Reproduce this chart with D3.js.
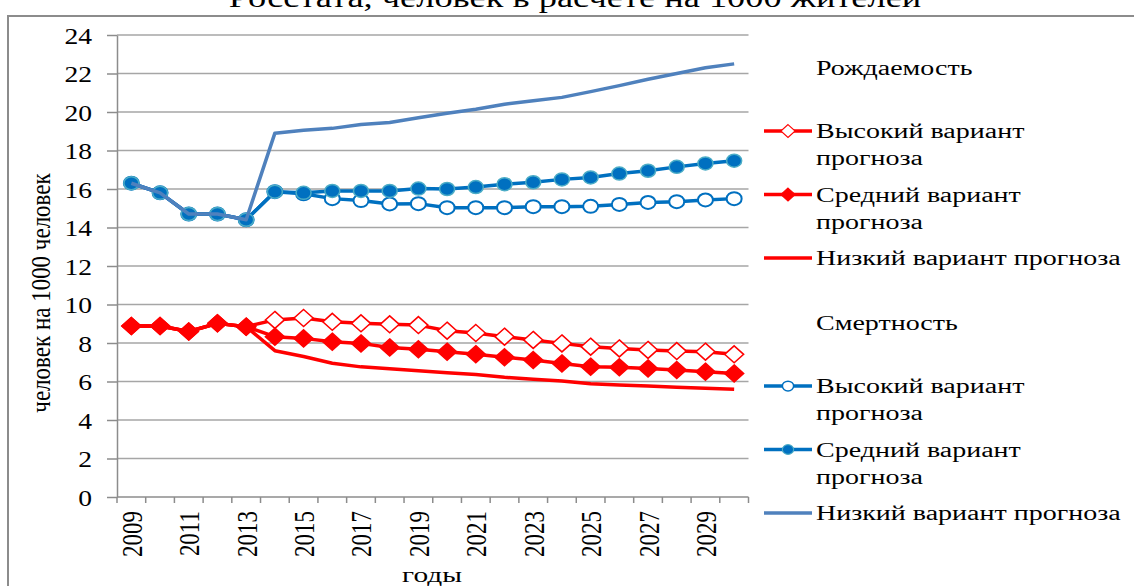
<!DOCTYPE html>
<html>
<head>
<meta charset="utf-8">
<script src="https://cdn.jsdelivr.net/npm/d3@7"></script>
<style>
  body { margin: 0; background: #fff; }
  text { font-family: "Liberation Serif", "Times New Roman", serif; fill: #000; }
</style>
</head>
<body>
<svg id="chart" width="1134" height="586"></svg>
<script>
const years = ['2009', '2010', '2011', '2012', '2013', '2014', '2015', '2016', '2017', '2018', '2019',
               '2020', '2021', '2022', '2023', '2024', '2025', '2026', '2027', '2028', '2029', '2030']
const yearLabels = ['2009', '2011', '2013', '2015', '2017', '2019', '2021', '2023', '2025', '2027', '2029']
const yTicks = [0, 2, 4, 6, 8, 10, 12, 14, 16, 18, 20, 22, 24]

// Рождаемость
const birthHigh = [8.88, 8.88, 8.6, 9.02, 8.85, 9.2, 9.3, 9.1, 9.02, 8.97, 8.93, 8.64, 8.52, 8.33, 8.16, 7.98, 7.81, 7.72, 7.64, 7.58, 7.55, 7.41]
const birthMid  = [8.88, 8.88, 8.6, 9.02, 8.85, 8.33, 8.24, 8.07, 7.98, 7.77, 7.67, 7.55, 7.42, 7.26, 7.12, 6.94, 6.77, 6.74, 6.68, 6.6, 6.51, 6.42]
const birthLow  = [8.88, 8.88, 8.6, 9.02, 8.85, 7.6, 7.3, 6.95, 6.76, 6.66, 6.56, 6.46, 6.36, 6.22, 6.12, 6.02, 5.88, 5.82, 5.77, 5.7, 5.65, 5.6]

// Смертность
const deathHigh = [16.3, 15.8, 14.7, 14.7, 14.4, 15.86, 15.75, 15.5, 15.4, 15.22, 15.24, 15.03, 15.03, 15.03, 15.08, 15.08, 15.1, 15.2, 15.3, 15.34, 15.43, 15.5]
const deathMid  = [16.3, 15.8, 14.7, 14.7, 14.4, 15.86, 15.8, 15.9, 15.9, 15.9, 16.02, 16.0, 16.1, 16.25, 16.35, 16.5, 16.6, 16.8, 16.95, 17.15, 17.33, 17.47]
const deathLow  = [16.3, 15.8, 14.7, 14.7, 14.4, 18.9, 19.05, 19.15, 19.35, 19.45, 19.7, 19.93, 20.14, 20.4, 20.59, 20.76, 21.06, 21.37, 21.7, 22.0, 22.3, 22.5]

const variantHigh = 'Высокий вариант прогноза'
const variantMid = 'Средний вариант прогноза'
const variantLow = 'Низкий вариант прогноза'

const series = [
    { name: variantHigh, group: 'birth', values: birthHigh, color: '#ff0000', marker: 'diamondOpen', width: 3.5 },
    { name: variantMid, group: 'birth', values: birthMid, color: '#ff0000', marker: 'diamond', width: 3.5 },
    { name: variantLow, group: 'birth', values: birthLow, color: '#ff0000', marker: null, width: 3.5 },
    { name: variantHigh, group: 'death', values: deathHigh, color: '#0070c0', marker: 'circleOpen', width: 3.5 },
    { name: variantMid, group: 'death', values: deathMid, color: '#0070c0', marker: 'circle', width: 3.5 },
    { name: variantLow, group: 'death', values: deathLow, color: '#4f81bd', marker: null, width: 3.5 }
]

const svg = d3.select('#chart')

let x = d3.scaleBand().domain(years).range([117, 748.5])
let y = d3.scaleLinear().domain([0, 24]).range([497, 35])

// stretched text helper (the picture is wider than tall)
function label(parent, px, py, str, size, sx, anchor, rotate) {
    let g = parent.append('g').attr('transform', 'translate(' + px + ',' + py + ') scale(' + sx + ',1)')
    let t = g.append('text')
        .text(str)
        .attr('font-size', size)
        .attr('text-anchor', anchor || 'start')
    if (rotate) {
        t.attr('transform', 'rotate(' + rotate + ')')
    }
    return t
}

// outer frame
svg.append('rect')
    .attr('x', 8).attr('y', 16)
    .attr('width', 1200).attr('height', 700)
    .attr('fill', 'none')
    .attr('stroke', '#8c8c8c')
    .attr('stroke-width', 2)

// title (cut off at top)
label(svg, 575, 7, 'Росстата, человек в расчете на 1000 жителей', 28, 1.3, 'middle')

// gridlines
svg.append('g')
    .selectAll('line')
    .data(yTicks.filter(d => d > 0))
    .enter()
    .append('line')
    .attr('x1', x.range()[0])
    .attr('x2', x.range()[1])
    .attr('y1', d => y(d))
    .attr('y2', d => y(d))
    .attr('stroke', '#a6a6a6')
    .attr('stroke-width', 1.5)

// y axis
let yAxis = svg.append('g')
    .attr('transform', 'translate(' + x.range()[0] + ',0)')
    .call(d3.axisLeft(y).tickValues(yTicks).tickSize(10).tickSizeOuter(0))
yAxis.selectAll('path, line').attr('stroke', '#8c8c8c').attr('stroke-width', 1.5)
yAxis.selectAll('text').remove()
yAxis.selectAll('.tick').each(function (d) {
    label(d3.select(this), -25, 0, d, 23, 1.2, 'end').attr('dy', '0.35em')
})

// x axis
let xAxis = svg.append('g')
    .attr('transform', 'translate(0,' + y(0) + ')')
xAxis.append('line')
    .attr('x1', x.range()[0]).attr('x2', x.range()[1])
    .attr('stroke', '#8c8c8c').attr('stroke-width', 1.5)
xAxis.selectAll('.bound')
    .data(years.map(d => x(d)).concat([x.range()[1]]))
    .enter()
    .append('line')
    .attr('class', 'bound')
    .attr('x1', d => d).attr('x2', d => d)
    .attr('y1', 0).attr('y2', 6)
    .attr('stroke', '#8c8c8c').attr('stroke-width', 1.5)
yearLabels.forEach(d => {
    label(xAxis, x(d) + x.bandwidth() / 2, 0, d, 23, 1.3, 'end', -90)
        .attr('x', -14)
        .attr('dy', '0.35em')
})

// axis titles
label(svg, 432, 582, 'годы', 21, 1.4, 'middle')
label(svg, 40, 293, 'человек на 1000 человек', 23, 1.2, 'middle', -90).attr('dy', '0.35em')

// lines
let line = d3.line()
    .x((d, i) => x(years[i]) + x.bandwidth() / 2)
    .y(d => y(d))

function drawMarker(sel, type, color) {
    if (type === 'diamond' || type === 'diamondOpen') {
        sel.append('path')
            .attr('d', 'M0,-8.5L9.5,0L0,8.5L-9.5,0Z')
            .attr('fill', type === 'diamond' ? color : '#fff')
            .attr('stroke', color)
            .attr('stroke-width', 1.5)
    } else if (type === 'circle' || type === 'circleOpen') {
        sel.append('ellipse')
            .attr('rx', 7.5).attr('ry', 6.5)
            .attr('fill', type === 'circle' ? color : '#fff')
            .attr('stroke', type === 'circle' ? '#4bacc6' : color)
            .attr('stroke-width', type === 'circle' ? 1.5 : 2)
    }
}

series.forEach(s => {
    let g = svg.append('g')
    g.append('path')
        .datum(s.values)
        .attr('d', line)
        .attr('fill', 'none')
        .attr('stroke', s.color)
        .attr('stroke-width', s.width)
        .attr('stroke-linejoin', 'round')
    if (s.marker) {
        g.selectAll('.mk')
            .data(s.values)
            .enter()
            .append('g')
            .attr('class', 'mk')
            .attr('transform', (d, i) => 'translate(' + (x(years[i]) + x.bandwidth() / 2) + ',' + y(d) + ')')
            .each(function () { drawMarker(d3.select(this), s.marker, s.color) })
    }
})

// legend
let legendGroups = [
    { title: 'Рождаемость', group: 'birth', top: 68 },
    { title: 'Смертность', group: 'death', top: 323 }
]
let legend = svg.append('g')
legendGroups.forEach(lg => {
    label(legend, 816, lg.top, lg.title, 20, 1.4, 'start').attr('dy', '0.35em')
    series.filter(s => s.group === lg.group).forEach((s, i) => {
        let cy = lg.top + 63 + i * 63.5
        legend.append('line')
            .attr('x1', 764).attr('x2', 812)
            .attr('y1', cy).attr('y2', cy)
            .attr('stroke', s.color)
            .attr('stroke-width', s.width)
        if (s.marker) {
            drawMarker(legend.append('g').attr('transform', 'translate(788,' + cy + ') scale(0.75)'), s.marker, s.color)
        }
        let lines = s.marker ? [s.name.split(' ').slice(0, 2).join(' '), s.name.split(' ')[2]] : [s.name]
        lines.forEach((txt, j) => {
            label(legend, 816, cy + j * 27, txt, 20, 1.4, 'start').attr('dy', '0.35em')
        })
    })
})
</script>
</body>
</html>
